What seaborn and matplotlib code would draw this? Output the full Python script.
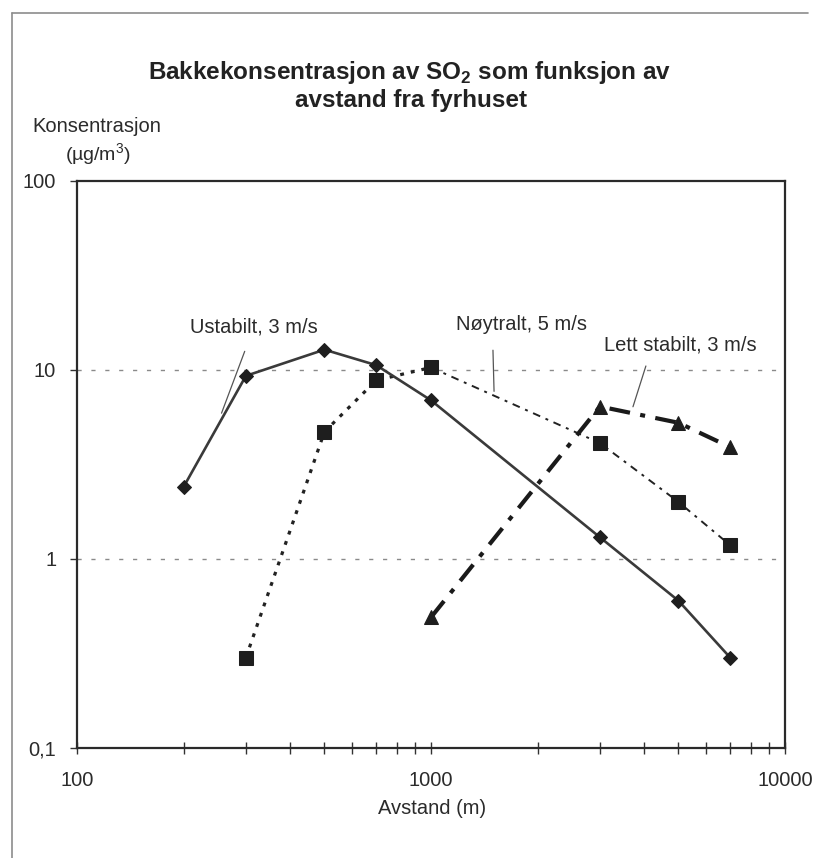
import matplotlib
matplotlib.use("Agg")
import matplotlib.pyplot as plt
import seaborn as sns
from matplotlib.ticker import FixedLocator, NullLocator, LogLocator, NullFormatter
from matplotlib.lines import Line2D

# ---- data ----
ustabil_x = [200, 300, 500, 700, 1000, 3000, 5000, 7000]
ustabil_y = [2.4, 9.3, 12.8, 10.6, 6.9, 1.3, 0.6, 0.3]
noytral_x = [300, 500, 700, 1000, 3000, 5000, 7000]
noytral_y = [0.3, 4.7, 8.8, 10.3, 4.1, 2.0, 1.18]
lett_x = [1000, 3000, 5000, 7000]
lett_y = [0.49, 6.4, 5.25, 3.9]

series_labels = ["Ustabilt, 3 m/s", "Nøytralt, 5 m/s", "Lett stabilt, 3 m/s"]
y_ticks = [0.1, 1, 10, 100]
y_ticklabels = ["0,1", "1", "10", "100"]
x_ticks = [100, 1000, 10000]
x_ticklabels = ["100", "1000", "10000"]

sns.set_style("white")
plt.rcParams['font.family'] = ['Liberation Sans', 'DejaVu Sans']
plt.rcParams['mathtext.fontset'] = 'custom'
plt.rcParams['mathtext.rm'] = 'Liberation Sans'
plt.rcParams['mathtext.bf'] = 'Liberation Sans:bold'

W, H = 815, 858
fig = plt.figure(figsize=(W / 100, H / 100), dpi=100)
L, R, T, B = 77, 785, 181, 747.7
ax = fig.add_axes([L / W, 1 - B / H, (R - L) / W, (B - T) / H])

txt = '#2b2b2b'
mk = '#1e1e1e'

# Ustabilt
sns.lineplot(x=ustabil_x, y=ustabil_y, ax=ax, color='#3a3a3a', lw=1.9,
             marker='D', markersize=7.5, markerfacecolor=mk, markeredgecolor=mk,
             estimator=None, sort=False, zorder=3)
# Nøytralt (first part dotted, thicker; later part thin dash-dot)
sns.lineplot(x=noytral_x[:4], y=noytral_y[:4], ax=ax, color='#222222', lw=2.3,
             linestyle=(0, (1.2, 2.2)), estimator=None, sort=False, zorder=2)
sns.lineplot(x=noytral_x[3:], y=noytral_y[3:], ax=ax, color='#222222', lw=1.4,
             linestyle=(0, (4, 3, 1.5, 3)), estimator=None, sort=False, zorder=2)
sns.lineplot(x=noytral_x, y=noytral_y, ax=ax, lw=0, marker='s', markersize=9.5,
             markerfacecolor=mk, markeredgecolor=mk, estimator=None, sort=False, zorder=4)
# Lett stabilt
sns.lineplot(x=lett_x, y=lett_y, ax=ax, color='#1a1a1a', lw=3.0,
             linestyle=(0, (5, 2.5, 1.2, 2.5)), marker='^', markersize=9.5,
             markerfacecolor=mk, markeredgecolor=mk,
             estimator=None, sort=False, zorder=3)

ax.set_xscale('log')
ax.set_yscale('log')
ax.set_xlim(100, 10000)
ax.set_ylim(0.1, 100)

ax.yaxis.set_major_locator(FixedLocator(y_ticks))
ax.set_yticklabels(y_ticklabels)
ax.yaxis.set_minor_locator(NullLocator())
ax.xaxis.set_major_locator(FixedLocator(x_ticks))
ax.set_xticklabels(x_ticklabels)
ax.xaxis.set_minor_locator(LogLocator(base=10, subs=range(2, 10)))
ax.xaxis.set_minor_formatter(NullFormatter())

ax.tick_params(axis='y', which='major', direction='out', length=5, width=1,
               color='#333', pad=10, labelsize=14.5, labelcolor=txt, left=True)
ax.tick_params(axis='x', which='both', direction='inout', length=8, width=1,
               color='#333', pad=13, labelsize=14.5, labelcolor=txt, bottom=True)

ax.grid(False)
for v in y_ticks[1:-1]:
    ax.axhline(v, color='#8a8a8a', lw=1, linestyle=(0, (3, 7)), zorder=1)

for s in ax.spines.values():
    s.set_visible(True)
    s.set_color('#2a2a2a')
    s.set_linewidth(1.6)

ax.set_xlabel('')
ax.set_ylabel('')

# annotations with leader lines
ax.annotate(series_labels[0], xy=(256, 5.9), xytext=(316, 16.9),
            ha='center', va='center', fontsize=14.5, color=txt,
            arrowprops=dict(arrowstyle='-', color='#555', lw=0.9,
                            shrinkA=9, shrinkB=0))
ax.annotate(series_labels[1], xy=(1507, 7.7), xytext=(1800, 17.3),
            ha='center', va='center', fontsize=14.5, color=txt,
            arrowprops=dict(arrowstyle='-', color='#555', lw=0.9,
                            shrinkA=9, shrinkB=0, relpos=(0.28, 0)))
ax.annotate(series_labels[2], xy=(3720, 6.38), xytext=(5050, 13.5),
            ha='center', va='center', fontsize=14.5, color=txt,
            arrowprops=dict(arrowstyle='-', color='#555', lw=0.9,
                            shrinkA=6, shrinkB=0, relpos=(0.3, 0)))

# titles and axis labels
fig.text(410 / W, 1 - 73 / H, 'Bakkekonsentrasjon av SO$_\\mathbf{2}$ som funksjon av',
         ha='center', va='center', fontsize=17.5, fontweight='bold', color='#222')
fig.text(411 / W, 1 - 101 / H, 'avstand fra fyrhuset',
         ha='center', va='center', fontsize=17.5, fontweight='bold', color='#222')
fig.text(32 / W, 1 - 127 / H, 'Konsentrasjon', ha='left', va='center',
         fontsize=14.5, color=txt)
fig.text(65 / W, 1 - 155 / H, '(µg/m$^3$)', ha='left', va='center',
         fontsize=14, color=txt)
fig.text(432 / W, 1 - 809 / H, 'Avstand (m)', ha='center', va='center',
         fontsize=14.5, color=txt)

# outer chart border (left and top)
fig.add_artist(Line2D([12 / W, 12 / W], [0, 1 - 13 / H], transform=fig.transFigure,
                      color='#8c8c8c', lw=1.2))
fig.add_artist(Line2D([12 / W, 808 / W], [1 - 13 / H, 1 - 13 / H], transform=fig.transFigure,
                      color='#8c8c8c', lw=1.2))

fig.savefig('out.png', dpi=100, facecolor='white')
